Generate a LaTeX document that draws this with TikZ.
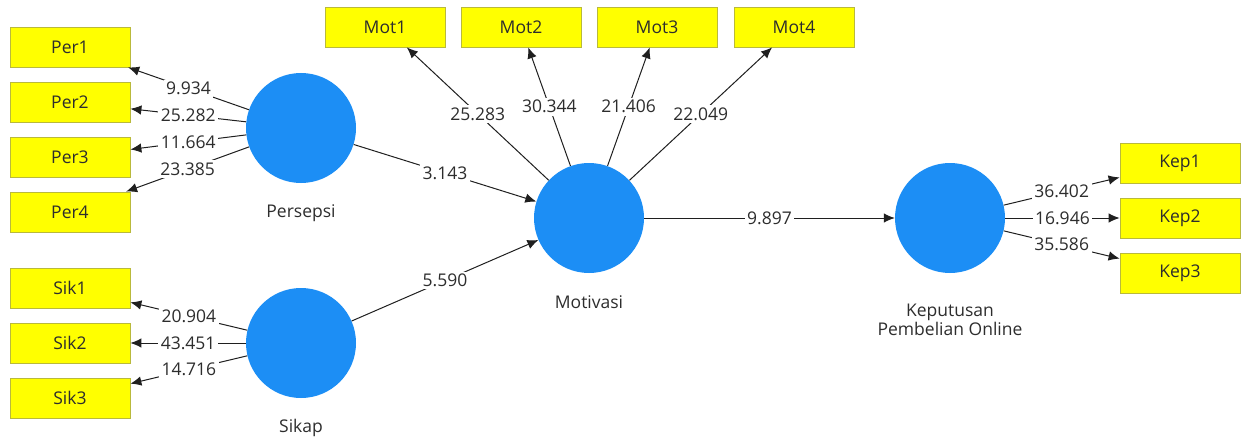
\documentclass[tikz,border=0pt]{standalone}
\usepackage{fontspec}
\setmainfont{Open Sans}
\usetikzlibrary{arrows.meta}
\definecolor{boxyel}{RGB}{255,255,0}
\definecolor{boxedge}{RGB}{185,185,60}
\definecolor{lvblue}{RGB}{28,142,245}
\definecolor{txt}{RGB}{45,45,45}
\begin{document}
\begin{tikzpicture}[x=1pt,y=-1pt,
  font=\fontsize{17.5}{16}\selectfont,
  ind/.style={draw=boxedge, fill=boxyel, minimum width=120pt, minimum height=40pt, inner sep=0pt, text=txt, line width=0.8pt},
  lv/.style={circle, fill=lvblue, minimum size=110pt, inner sep=0pt},
  lvlabel/.style={text=txt, align=center},
  conn/.style={draw=black!88, line width=1pt, -{Latex[length=11pt,width=9.5pt]}},
  coef/.style={fill=white, inner sep=2.5pt, text=txt, midway}]
\useasboundingbox (0,0) rectangle (1244,441);
% latent variables
\node[lv] (pers) at (301,128) {};
\node[lv] (sik) at (301,343) {};
\node[lv] (mot) at (589,218) {};
\node[lv] (kep) at (950,218) {};
\node[lvlabel] (lpers) at (301,213) {Persepsi};
\node[lvlabel] (lsik) at (301,428) {Sikap};
\node[lvlabel] (lmot) at (589,302) {Motivasi};
\node[lvlabel] (lkep) at (950,320) {Keputusan\\Pembelian Online};
% indicators
\node[ind] (per1) at (70,47) {Per1};
\node[ind] (per2) at (70,102) {Per2};
\node[ind] (per3) at (70,157) {Per3};
\node[ind] (per4) at (70,212) {Per4};
\node[ind] (sik1) at (70,288) {Sik1};
\node[ind] (sik2) at (70,343) {Sik2};
\node[ind] (sik3) at (70,398) {Sik3};
\node[ind] (mot1) at (385,27) {Mot1};
\node[ind] (mot2) at (521,27) {Mot2};
\node[ind] (mot3) at (657,27) {Mot3};
\node[ind] (mot4) at (794,27) {Mot4};
\node[ind] (kep1) at (1180,163) {Kep1};
\node[ind] (kep2) at (1180,218) {Kep2};
\node[ind] (kep3) at (1180,273) {Kep3};
% outer loadings
\draw[conn] (pers) -- node[coef] {9.934} (per1);
\draw[conn] (pers) -- node[coef] {25.282} (per2);
\draw[conn] (pers) -- node[coef] {11.664} (per3);
\draw[conn] (pers) -- node[coef] {23.385} (per4);
\draw[conn] (sik) -- node[coef] {20.904} (sik1);
\draw[conn] (sik) -- node[coef] {43.451} (sik2);
\draw[conn] (sik) -- node[coef] {14.716} (sik3);
\draw[conn] (mot) -- node[coef] {25.283} (mot1);
\draw[conn] (mot) -- node[coef] {30.344} (mot2);
\draw[conn] (mot) -- node[coef] {21.406} (mot3);
\draw[conn] (mot) -- node[coef] {22.049} (mot4);
\draw[conn] (kep) -- node[coef] {36.402} (kep1);
\draw[conn] (kep) -- node[coef] {16.946} (kep2);
\draw[conn] (kep) -- node[coef] {35.586} (kep3);
% inner paths
\draw[conn] (pers) -- node[coef] {3.143} (mot);
\draw[conn] (sik) -- node[coef] {5.590} (mot);
\draw[conn] (mot) -- node[coef] {9.897} (kep);
\end{tikzpicture}
\end{document}
